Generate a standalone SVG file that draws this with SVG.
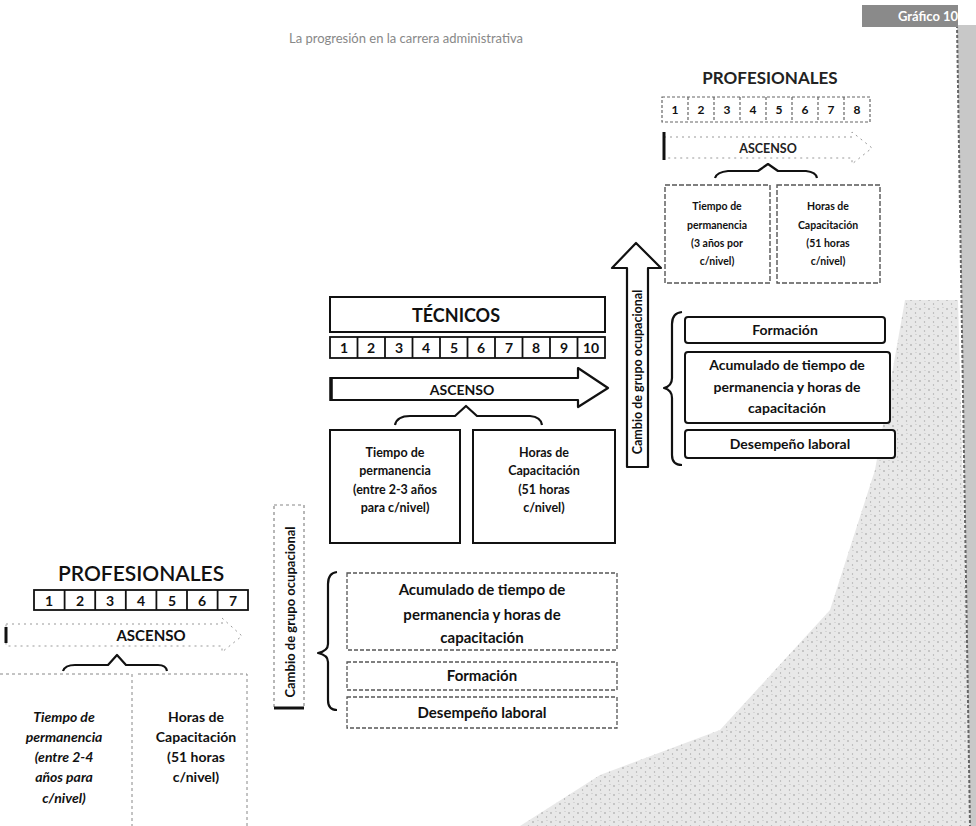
<svg xmlns="http://www.w3.org/2000/svg" width="976" height="826" viewBox="0 0 976 826">
<style>
text{font-family:Lato,"Open Sans","Liberation Sans",sans-serif;fill:#111;text-anchor:middle}
.b{font-weight:700}
.box{fill:#fff;stroke:#111;stroke-width:2}
.fbox{fill:none;stroke:#555;stroke-width:1.3;stroke-dasharray:4 2}
.cell{fill:#fff;stroke:#111;stroke-width:1.8}
.fcell{fill:none;stroke:#666;stroke-width:1.2;stroke-dasharray:3 2}
.brace{fill:none;stroke:#111;stroke-width:2.2;stroke-linejoin:round}
</style>
<defs>
<pattern id="speckle" width="9" height="9" patternUnits="userSpaceOnUse">
<rect width="9" height="9" fill="#e4e4e4"/>
<circle cx="2" cy="3" r="0.8" fill="#888"/>
<circle cx="6.5" cy="7" r="0.7" fill="#999"/>
<circle cx="7" cy="1.5" r="0.5" fill="#aaa"/>
</pattern>
</defs>
<rect width="976" height="826" fill="#fff"/>
<g id="page-shade">
<polygon points="905,300 958,300 972,826 520,826 600,775 720,730 830,610 875,470" fill="url(#speckle)" opacity="0.85"/>
<polygon points="957,25 976,25 976,826 970,826" fill="#c8c8c8"/>
<line x1="957" y1="25" x2="970" y2="826" stroke="#666" stroke-width="2" stroke-dasharray="3 2"/>
</g>
<g id="header">
<text x="406" y="43" font-size="13" style="fill:#888">La progresión en la carrera administrativa</text>
<rect x="862" y="5" width="96" height="22" fill="#8a8a8a"/>
<text x="928" y="21" font-size="13" class="b" style="fill:#fff">Gráfico 10</text>
</g>
<g id="connectors">
<polygon points="627,467 648,467 648,268 661,268 636,243 612,268 627,268" fill="#fff" stroke="#111" stroke-width="2.2" stroke-linejoin="round"/>
<rect x="274" y="505" width="30" height="203" fill="none" stroke="#888" stroke-width="1.2" stroke-dasharray="3 3"/>
<line x1="274" y1="708" x2="304" y2="708" stroke="#111" stroke-width="3"/>
<path class="brace" d="M682,312 Q672,313 672,324 L672,378 Q672,386 664,388 Q672,390 672,398 L672,455 Q672,465 682,465"/>
<path class="brace" d="M337,572 Q328,573 328,584 L328,644 Q328,651 318,653 Q328,655 328,662 L328,700 Q328,710 337,710"/>
</g>
<g id="profesionales-top">
<text x="770" y="84" font-size="17" class="b" style="fill:#222">PROFESIONALES</text>
<rect x="662" y="97" width="208" height="25" class="fcell"/>
<g class="fcell">
<line x1="688" y1="97" x2="688" y2="122"/><line x1="714" y1="97" x2="714" y2="122"/><line x1="740" y1="97" x2="740" y2="122"/><line x1="766" y1="97" x2="766" y2="122"/><line x1="792" y1="97" x2="792" y2="122"/><line x1="818" y1="97" x2="818" y2="122"/><line x1="844" y1="97" x2="844" y2="122"/>
</g>
<g font-size="12" class="b" style="fill:#222">
<text x="675" y="114">1</text><text x="701" y="114">2</text><text x="727" y="114">3</text><text x="753" y="114">4</text><text x="779" y="114">5</text><text x="805" y="114">6</text><text x="831" y="114">7</text><text x="857" y="114">8</text>
</g>
<polygon points="664,137 852,137 852,132 872,148 852,164 852,158 664,158" fill="none" stroke="#999" stroke-width="1" stroke-dasharray="2 4"/>
<line x1="664" y1="132" x2="664" y2="160" stroke="#111" stroke-width="3"/>
<text x="768" y="153" font-size="12.5" class="b" style="fill:#222">ASCENSO</text>
<path class="brace" d="M715,178 Q717,172 728,171 L758,171 L768,164 L778,171 L806,171 Q816,172 817,178"/>
</g>
<g id="tp-tiempo-top">
<rect x="665" y="185" width="105" height="98" fill="none" stroke="#555" stroke-width="1.4" stroke-dasharray="5 2"/>
<g font-size="10.5" class="b" style="fill:#333">
<text x="717" y="210">Tiempo de</text><text x="717" y="229">permanencia</text><text x="717" y="247">(3 años por</text><text x="717" y="265">c/nivel)</text>
</g>
</g>
<g id="hc-top">
<rect x="777" y="185" width="103" height="98" fill="none" stroke="#555" stroke-width="1.4" stroke-dasharray="5 2"/>
<g font-size="10.5" class="b" style="fill:#333">
<text x="828" y="210">Horas de</text><text x="828" y="229">Capacitación</text><text x="828" y="247">(51 horas</text><text x="828" y="265">c/nivel)</text>
</g>
</g>
<g id="cambio-top">
<text transform="translate(642,372) rotate(-90)" font-size="12.5" class="b">Cambio de grupo ocupacional</text>
</g>
<g id="tecnicos">
<rect x="330" y="297" width="275" height="35" class="box"/>
<text x="456" y="322" font-size="18" class="b">TÉCNICOS</text>
<rect x="330" y="337" width="275" height="21" class="cell"/>
<g stroke="#111" stroke-width="1.8">
<line x1="357.5" y1="337" x2="357.5" y2="358"/><line x1="385" y1="337" x2="385" y2="358"/><line x1="412.5" y1="337" x2="412.5" y2="358"/><line x1="440" y1="337" x2="440" y2="358"/><line x1="467.5" y1="337" x2="467.5" y2="358"/><line x1="495" y1="337" x2="495" y2="358"/><line x1="522.5" y1="337" x2="522.5" y2="358"/><line x1="550" y1="337" x2="550" y2="358"/><line x1="577.5" y1="337" x2="577.5" y2="358"/>
</g>
<g font-size="14" class="b">
<text x="344" y="353">1</text><text x="371" y="353">2</text><text x="399" y="353">3</text><text x="426" y="353">4</text><text x="454" y="353">5</text><text x="481" y="353">6</text><text x="509" y="353">7</text><text x="536" y="353">8</text><text x="564" y="353">9</text><text x="591" y="353">10</text>
</g>
<polygon points="331,378 578,378 578,368 608,388 578,407 578,400 331,400" fill="#fff" stroke="#111" stroke-width="2.2" stroke-linejoin="round"/>
<line x1="331" y1="377" x2="331" y2="401" stroke="#111" stroke-width="3.5"/>
<text x="462" y="395" font-size="14" class="b">ASCENSO</text>
<path class="brace" d="M395,425 Q397,416 410,416 L455,416 L466,406 L477,416 L530,416 Q541,417 542,425"/>
</g>
<g id="tp-tiempo-tec">
<rect x="330" y="430" width="130" height="113" class="box"/>
<g font-size="12.5" class="b">
<text x="395" y="457">Tiempo de</text><text x="395" y="475">permanencia</text><text x="395" y="494">(entre 2-3 años</text><text x="395" y="512">para c/nivel)</text>
</g>
</g>
<g id="hc-tec">
<rect x="473" y="430" width="142" height="113" class="box"/>
<g font-size="12.5" class="b">
<text x="544" y="457">Horas de</text><text x="544" y="475">Capacitación</text><text x="544" y="494">(51 horas</text><text x="544" y="512">c/nivel)</text>
</g>
</g>
<g id="formacion-top">
<rect x="685" y="317" width="200" height="26" rx="3" class="box"/>
<text x="785" y="335" font-size="14" class="b">Formación</text>
</g>
<g id="acumulado-top">
<rect x="685" y="352" width="205" height="71" rx="3" class="box"/>
<g font-size="14" class="b">
<text x="787" y="370">Acumulado de tiempo de</text><text x="787" y="392">permanencia y horas de</text><text x="787" y="413">capacitación</text>
</g>
</g>
<g id="desempeno-top">
<rect x="685" y="430" width="210" height="28" rx="3" class="box"/>
<text x="790" y="449" font-size="14" class="b">Desempeño laboral</text>
</g>
<g id="cambio-bottom">
<text transform="translate(295,612) rotate(-90)" font-size="13" class="b">Cambio de grupo ocupacional</text>
</g>
<g id="acumulado-bottom">
<rect x="347" y="573" width="270" height="77" class="fbox"/>
<g font-size="15" class="b">
<text x="482" y="595">Acumulado de tiempo de</text><text x="482" y="620">permanencia y horas de</text><text x="482" y="643">capacitación</text>
</g>
</g>
<g id="formacion-bottom">
<rect x="347" y="662" width="270" height="28" class="fbox"/>
<text x="482" y="681" font-size="15" class="b">Formación</text>
</g>
<g id="desempeno-bottom">
<rect x="347" y="697" width="270" height="31" class="fbox"/>
<text x="482" y="718" font-size="15" class="b">Desempeño laboral</text>
</g>
<g id="profesionales-bottom">
<text x="141" y="581" font-size="21" font-weight="600">PROFESIONALES</text>
<rect x="34" y="590" width="214" height="20" class="cell"/>
<g stroke="#111" stroke-width="1.8">
<line x1="64.6" y1="590" x2="64.6" y2="610"/><line x1="95.2" y1="590" x2="95.2" y2="610"/><line x1="125.8" y1="590" x2="125.8" y2="610"/><line x1="156.4" y1="590" x2="156.4" y2="610"/><line x1="187" y1="590" x2="187" y2="610"/><line x1="217.6" y1="590" x2="217.6" y2="610"/>
</g>
<g font-size="14" class="b">
<text x="49" y="606">1</text><text x="80" y="606">2</text><text x="110" y="606">3</text><text x="141" y="606">4</text><text x="172" y="606">5</text><text x="202" y="606">6</text><text x="233" y="606">7</text>
</g>
<polygon points="6,624 222,624 222,618 242,636 222,652 222,646 6,646" fill="none" stroke="#999" stroke-width="1" stroke-dasharray="2 4"/>
<line x1="6" y1="627" x2="6" y2="643" stroke="#111" stroke-width="3"/>
<text x="151" y="641" font-size="15" class="b">ASCENSO</text>
<path class="brace" d="M63,671 Q65,665 75,665 L108,665 L117,655 L126,665 L158,665 Q166,665 167,671"/>
</g>
<g id="tp-tiempo-bottom">
<path d="M0,674 L132,674 M132,674 L132,826" fill="none" stroke="#888" stroke-width="1" stroke-dasharray="3 3"/>
<g font-size="14" class="b" font-style="italic">
<text x="64" y="722">Tiempo de</text><text x="64" y="742">permanencia</text><text x="64" y="762">(entre 2-4</text><text x="64" y="782">años para</text><text x="64" y="803">c/nivel)</text>
</g>
</g>
<g id="hc-bottom">
<path d="M138,674 L247,674 L247,826" fill="none" stroke="#888" stroke-width="1" stroke-dasharray="3 3"/>
<g font-size="14" class="b">
<text x="196" y="722">Horas de</text><text x="196" y="742">Capacitación</text><text x="196" y="762">(51 horas</text><text x="196" y="782">c/nivel)</text>
</g>
</g>
</svg>
